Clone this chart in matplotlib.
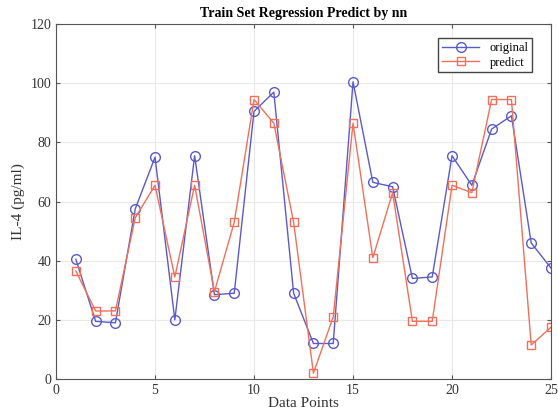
import matplotlib
matplotlib.use("Agg")
import matplotlib.pyplot as plt

# data
points = list(range(1, 26))
original = [40.5, 19.5, 19, 57.5, 75, 20, 75.5, 28.5, 29, 90.5,
            97, 29, 12, 12, 100.5, 66.5, 65, 34, 34.5, 75.5,
            65.5, 84.5, 89, 46, 37.5]
predict = [36.5, 23, 23, 54.5, 65.5, 34.5, 65.5, 29.5, 53, 94.5,
           86.5, 53, 2, 21, 86.5, 41, 63, 19.5, 19.5, 65.5,
           63, 94.5, 94.5, 11.5, 17.5]

plt.rcParams["font.family"] = "Liberation Serif"

fig = plt.figure(figsize=(5.58, 4.16), dpi=100)
ax = fig.add_axes([0.1004, 0.089, 0.8871, 0.853])

ax.plot(points, original, color="#5a5ac8", marker="o", markersize=7,
        markerfacecolor="none", linewidth=1.0, label="original")
ax.plot(points, predict, color="#f0705a", marker="s", markersize=5.5,
        markerfacecolor="none", linewidth=1.0, label="predict")

ax.set_xlim(0, 25)
ax.set_ylim(0, 120)
ax.set_xticks([0, 5, 10, 15, 20, 25])
ax.set_yticks([0, 20, 40, 60, 80, 100, 120])
ax.grid(True, color="#e8e8e8", linewidth=0.8)
ax.tick_params(direction="in", length=3, color="#555555", labelsize=10,
               labelcolor="#333333", top=True, right=True)
for s in ax.spines.values():
    s.set_color("#555555")

ax.set_title("Train Set Regression Predict by nn", fontsize=10,
             fontweight="bold", pad=5)
ax.set_xlabel("Data Points", fontsize=11, labelpad=0, color="#333333")
ax.set_ylabel("IL-4 (pg/ml)", fontsize=11, color="#333333")

leg = ax.legend(loc="upper right", bbox_to_anchor=(0.962, 0.96), fontsize=9,
                fancybox=False, edgecolor="#444444", framealpha=1,
                handlelength=3.0, borderpad=0.3, labelspacing=0.2,
                borderaxespad=0)
leg.get_frame().set_linewidth(1.0)

fig.savefig("out.png", dpi=100)
